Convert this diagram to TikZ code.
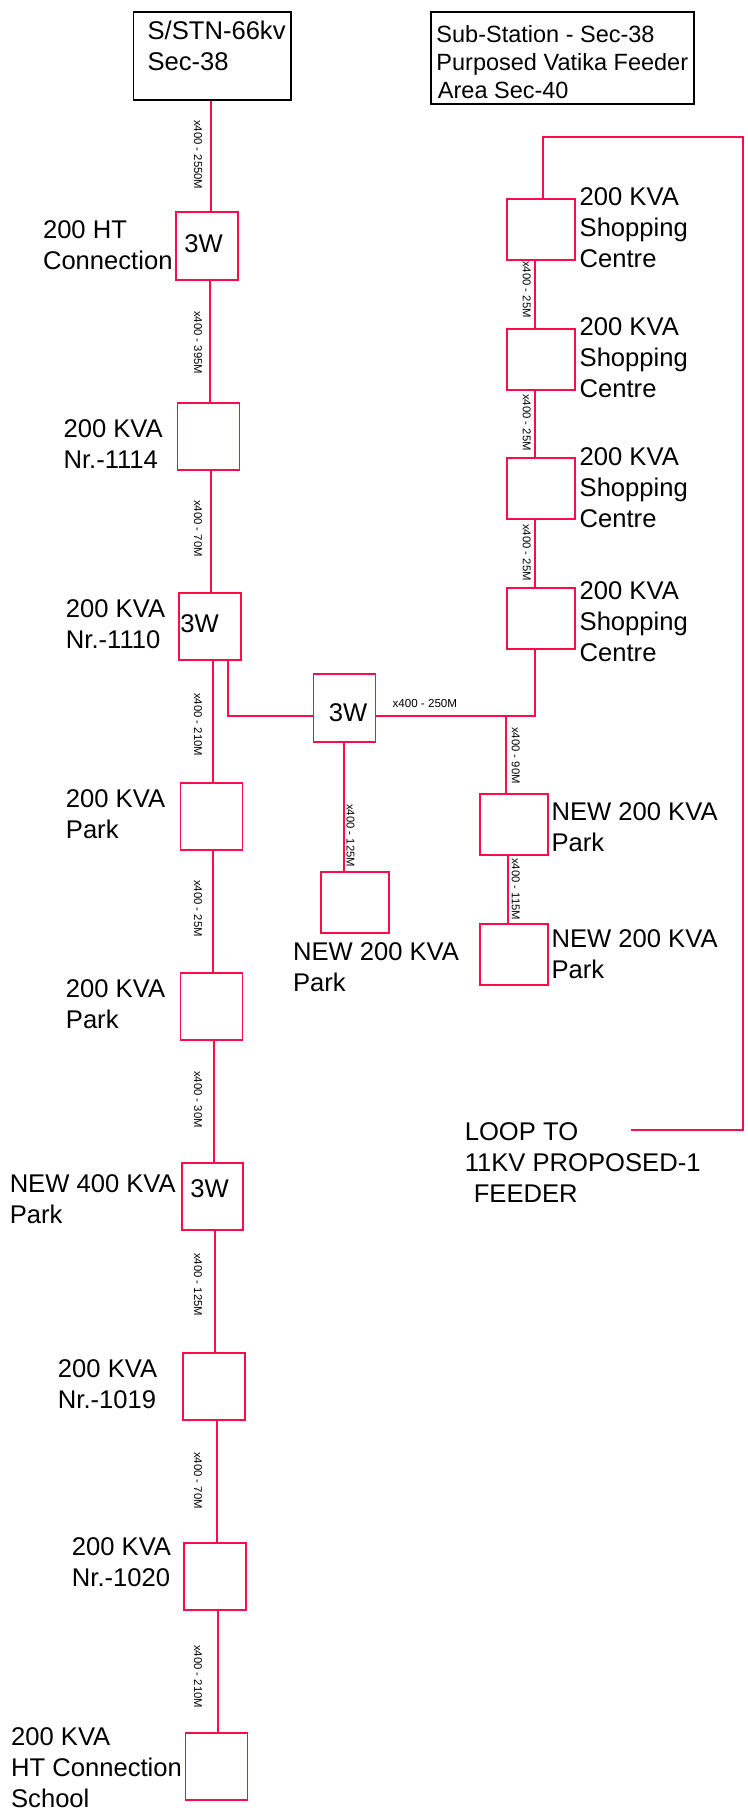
\documentclass[tikz,border=0pt]{standalone}
\usepackage{fontspec}
\setmainfont{Liberation Sans}
\definecolor{feeder}{HTML}{FF0A4A}
\tikzset{
  unitbox/.style={draw=feeder,line width=1.7pt,inner sep=0,anchor=north west},
  blackbox/.style={draw=black,line width=1.7pt,inner sep=0,anchor=north west},
  wire/.style={draw=feeder,line width=1.7pt},
  lbl/.style={inner sep=0,anchor=base west,font=\fontsize{25.6}{31}\selectfont},
  lblsm/.style={inner sep=0,anchor=base west,font=\fontsize{23.5}{28.4}\selectfont},
  cable/.style={inner sep=0,anchor=base west,rotate=-90,font=\fontsize{11.3}{13}\selectfont},
  cableh/.style={inner sep=0,anchor=base west,font=\fontsize{11.6}{13}\selectfont}
}
\newcommand{\rows}[1]{\begin{tabular}[t]{@{}l@{}}#1\end{tabular}}
\begin{document}
\begin{tikzpicture}[x=0.996pt,y=-1pt]
\useasboundingbox (0,0) rectangle (750,1820);
% black boxes
\node[blackbox,minimum width=157.4pt,minimum height=88pt] (top) at (133.3,11) {};
\node[blackbox,minimum width=263pt,minimum height=92pt] (legend) at (432.2,11) {};
% left column
\node[unitbox,minimum width=62pt,minimum height=68pt] (w1) at (176,211) {};
\node[unitbox,minimum width=62pt,minimum height=67pt] (n1114) at (177.5,402) {};
\node[unitbox,minimum width=62pt,minimum height=67pt] (n1110) at (179,592) {};
\node[unitbox,minimum width=62pt,minimum height=67pt] (pk1) at (180.5,782) {};
\node[unitbox,minimum width=62pt,minimum height=67pt] (pk2) at (180.5,972) {};
\node[unitbox,minimum width=61pt,minimum height=67pt] (n400) at (182,1162) {};
\node[unitbox,minimum width=62pt,minimum height=67pt] (n1019) at (183,1352) {};
\node[unitbox,minimum width=62pt,minimum height=67pt] (n1020) at (184,1542) {};
\node[unitbox,minimum width=62pt,minimum height=67pt] (sch) at (185.5,1732) {};
% centre
\node[unitbox,minimum width=62pt,minimum height=68pt] (w2) at (314,673) {};
\node[unitbox,minimum width=68pt,minimum height=61pt] (npm) at (321.5,871) {};
% right column
\node[unitbox,minimum width=68pt,minimum height=61pt] (sh1) at (508,198) {};
\node[unitbox,minimum width=68pt,minimum height=61pt] (sh2) at (508,328) {};
\node[unitbox,minimum width=68pt,minimum height=61pt] (sh3) at (508,457) {};
\node[unitbox,minimum width=68pt,minimum height=61pt] (sh4) at (508,587) {};
\node[unitbox,minimum width=68pt,minimum height=61pt] (np1) at (481,793) {};
\node[unitbox,minimum width=68pt,minimum height=61pt] (np2) at (481,923) {};
% junctions and free ends
\coordinate (busl) at (w2.west |- 0,716);
\coordinate (busr) at (w2.east |- 0,716);
\coordinate (cornerA) at (228.7,716);
\coordinate (cornerB) at (537,716);
\coordinate (tee) at (508,716);
\coordinate (loopA) at (545,137);
\coordinate (loopB) at (745.7,137);
\coordinate (loopC) at (745.7,1130);
\coordinate (loopD) at (633.5,1130);
% connectors
\draw[wire] (top.south -| 211.5,0) -- (w1.north -| 211.5,0);
\draw[wire] (w1.south -| 211,0) -- (n1114.north -| 211,0);
\draw[wire] (n1114.south -| 212,0) -- (n1110.north -| 212,0);
\draw[wire] (n1110.south -| 213.8,0) -- (pk1.north -| 213.8,0);
\draw[wire] (pk1.south -| 214,0) -- (pk2.north -| 214,0);
\draw[wire] (pk2.south -| 215,0) -- (n400.north -| 215,0);
\draw[wire] (n400.south -| 216,0) -- (n1019.north -| 216,0);
\draw[wire] (n1019.south -| 217.7,0) -- (n1020.north -| 217.7,0);
\draw[wire] (n1020.south -| 219,0) -- (sch.north -| 219,0);
\draw[wire] (n1110.south -| cornerA) -- (cornerA) -- (busl);
\draw[wire] (w2.south -| 345.5,0) -- (npm.north -| 345.5,0);
\draw[wire] (busr) -- (cornerB) -- (sh4.south -| cornerB);
\draw[wire] (tee) -- (np1.north -| tee);
\draw[wire] (np1.south -| 510,0) -- (np2.north -| 510,0);
\draw[wire] (sh1.south -| 537,0) -- (sh2.north -| 537,0);
\draw[wire] (sh2.south -| 537,0) -- (sh3.north -| 537,0);
\draw[wire] (sh3.south -| 537,0) -- (sh4.north -| 537,0);
\draw[wire] (sh1.north -| loopA) -- (loopA) -- (loopB) -- (loopC) -- (loopD);
% labels
\node[lbl] (t1) at (148,39) {\rows{S/STN-66kv\\Sec-38}};
\node[lblsm] (t2) at (438,42) {\rows{Sub-Station - Sec-38\\Purposed Vatika Feeder\\\hspace*{1.5pt}Area Sec-40}};
\node[lbl] (t3) at (43,238) {\rows{200 HT\\Connection}};
\node[lbl] (t4) at (185,252) {3W};
\node[lbl] (t5) at (63.6,437) {\rows{200 KVA\\Nr.-1114}};
\node[lbl] (t6) at (66,617) {\rows{200 KVA\\Nr.-1110}};
\node[lbl] (t7) at (181,632) {3W};
\node[lbl] (t8) at (66,807) {\rows{200 KVA\\Park}};
\node[lbl] (t9) at (66,997) {\rows{200 KVA\\Park}};
\node[lbl] (t10) at (9.6,1192) {\rows{NEW 400 KVA\\Park}};
\node[lbl] (t11) at (191,1197) {3W};
\node[lbl] (t12) at (58,1377) {\rows{200 KVA\\Nr.-1019}};
\node[lbl] (t13) at (72,1555) {\rows{200 KVA\\Nr.-1020}};
\node[lbl] (t14) at (11,1745) {\rows{200 KVA\\HT Connection\\School}};
\node[lbl] (t15) at (330,721) {3W};
\node[lbl] (t16) at (294,960) {\rows{NEW 200 KVA\\Park}};
\node[lbl] (t17) at (581.8,205) {\rows{200 KVA\\Shopping\\Centre}};
\node[lbl] (t18) at (581.8,335) {\rows{200 KVA\\Shopping\\Centre}};
\node[lbl] (t19) at (581.8,465.5) {\rows{200 KVA\\Shopping\\Centre}};
\node[lbl] (t20) at (581.8,599) {\rows{200 KVA\\Shopping\\Centre}};
\node[lbl] (t21) at (553.6,820) {\rows{NEW 200 KVA\\Park}};
\node[lbl] (t22) at (553.6,947) {\rows{NEW 200 KVA\\Park}};
\node[lbl] (t23) at (466.5,1140) {\rows{LOOP TO\\11KV PROPOSED-1\\\hspace*{9pt}FEEDER}};
% cable labels
\node[cable] (c1) at (195,120) {x400 - 2550M};
\node[cable] (c2) at (195,311) {x400 - 395M};
\node[cable] (c3) at (195,500) {x400 - 70M};
\node[cable] (c4) at (195,693) {x400 - 210M};
\node[cable] (c5) at (195,880) {x400 - 25M};
\node[cable] (c6) at (195,1071) {x400 - 30M};
\node[cable] (c7) at (195,1253) {x400 - 125M};
\node[cable] (c8) at (195,1452) {x400 - 70M};
\node[cable] (c9) at (195,1645) {x400 - 210M};
\node[cable] (c10) at (348,804) {x400 - 125M};
\node[cable] (c11) at (514,727) {x400 - 90M};
\node[cable] (c12) at (514,858) {x400 - 115M};
\node[cable] (c13) at (525,261) {x400 - 25M};
\node[cable] (c14) at (525,394) {x400 - 25M};
\node[cable] (c15) at (525,524) {x400 - 25M};
\node[cableh] (c16) at (394,707) {x400 - 250M};
\end{tikzpicture}
\end{document}
